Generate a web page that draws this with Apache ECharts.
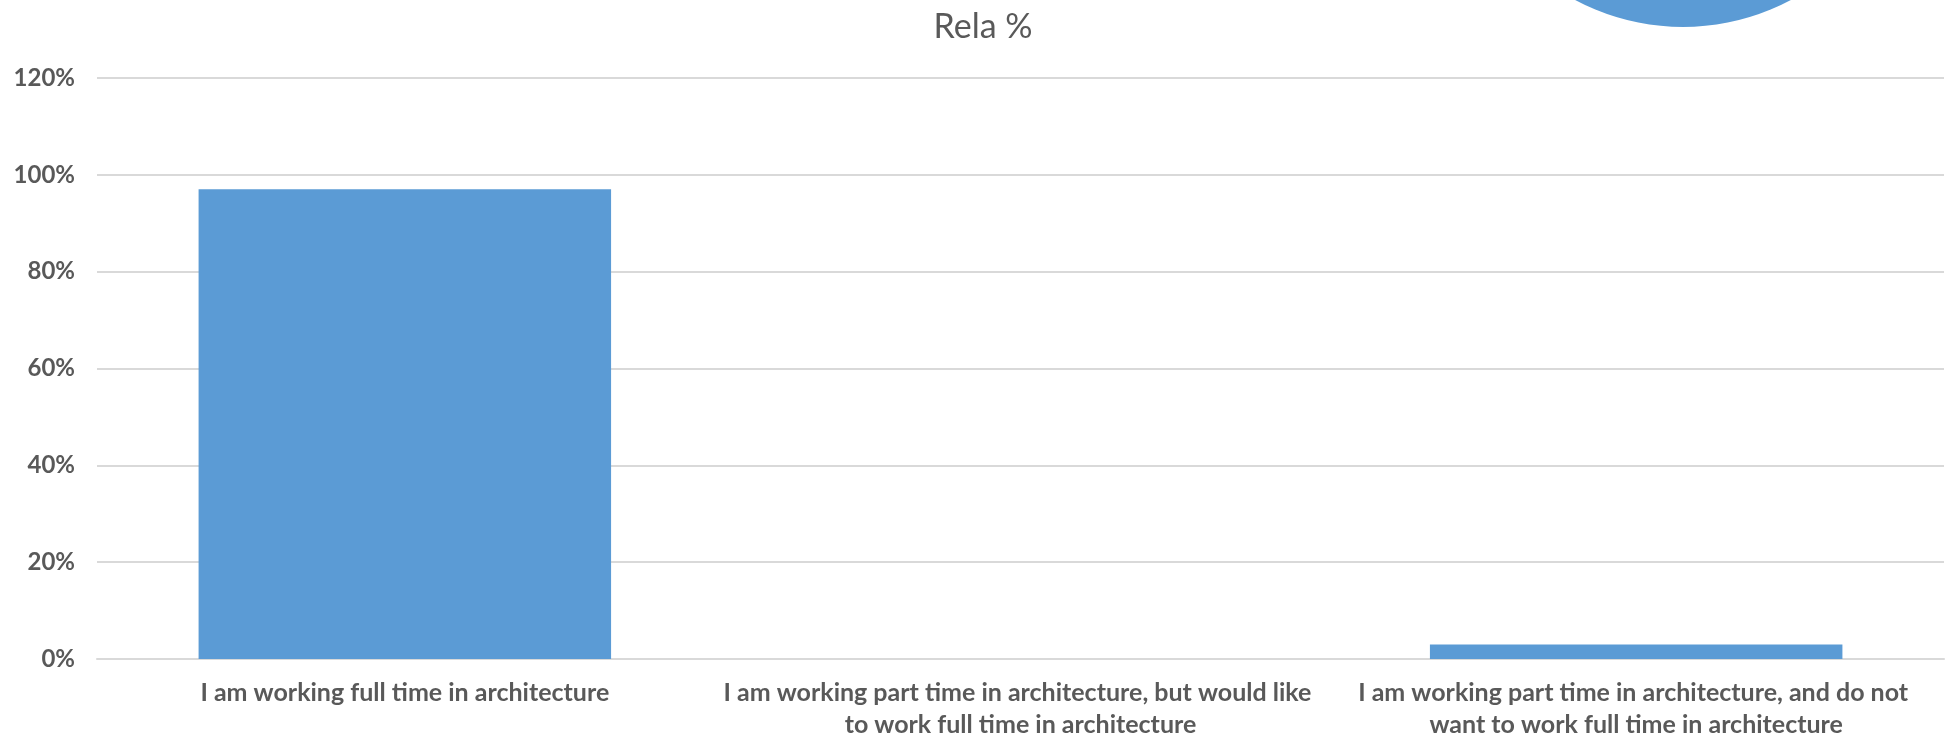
<!DOCTYPE html>
<html>
<head>
<meta charset="utf-8">
<script src="https://cdn.jsdelivr.net/npm/echarts@6/dist/echarts.min.js"></script>
<style>
html,body{margin:0;padding:0;background:#fff;}
#chart{width:1948px;height:741px;}
</style>
</head>
<body>
<div id="chart"></div>
<script>
const categories = [
  "I am working full time in architecture",
  "I am working part time in architecture, but would like to work full time in architecture",
  "I am working part time in architecture, and do not want to work full time in architecture"
];
const relaValues = [0.97, 0, 0.03];
const pieValues = [{ name: "slice", value: 1 }];
const titleText = "Rela %";

const FONT = "Lato, 'Open Sans', sans-serif";
const chart = echarts.init(document.getElementById('chart'), null, { renderer: 'canvas' });
chart.setOption({
  animation: false,
  backgroundColor: '#ffffff',
  title: {
    text: titleText,
    left: 978, top: 5, textAlign: 'center',
    textStyle: { fontFamily: FONT, fontWeight: 'normal', fontSize: 34, color: '#595959' }
  },
  grid: { left: 97, right: 4, top: 78, bottom: 81, containLabel: false },
  xAxis: {
    type: 'category',
    data: categories,
    axisLine: { lineStyle: { color: '#D9D9D9', width: 2 } },
    axisTick: { show: false },
    axisLabel: {
      interval: 0,
      margin: 18,
      width: 600,
      overflow: 'break',
      lineHeight: 32,
      fontFamily: FONT, fontWeight: 'bold', fontSize: 25, color: '#595959'
    }
  },
  yAxis: {
    type: 'value',
    min: 0, max: 1.2, interval: 0.2,
    axisLine: { show: false },
    axisTick: { show: false },
    splitLine: { lineStyle: { color: '#D9D9D9', width: 2 } },
    axisLabel: {
      margin: 22,
      fontFamily: FONT, fontWeight: 'bold', fontSize: 24, color: '#595959',
      formatter: v => Math.round(v * 100) + '%'
    }
  },
  series: [
    {
      type: 'bar',
      data: relaValues,
      barWidth: '67%',
      itemStyle: { color: '#5B9BD5' }
    },
    {
      type: 'pie',
      center: [1683, -202],
      radius: 229,
      label: { show: false },
      labelLine: { show: false },
      silent: true,
      itemStyle: { color: '#5B9BD5', borderWidth: 0 },
      data: pieValues
    }
  ]
});
</script>
</body>
</html>
